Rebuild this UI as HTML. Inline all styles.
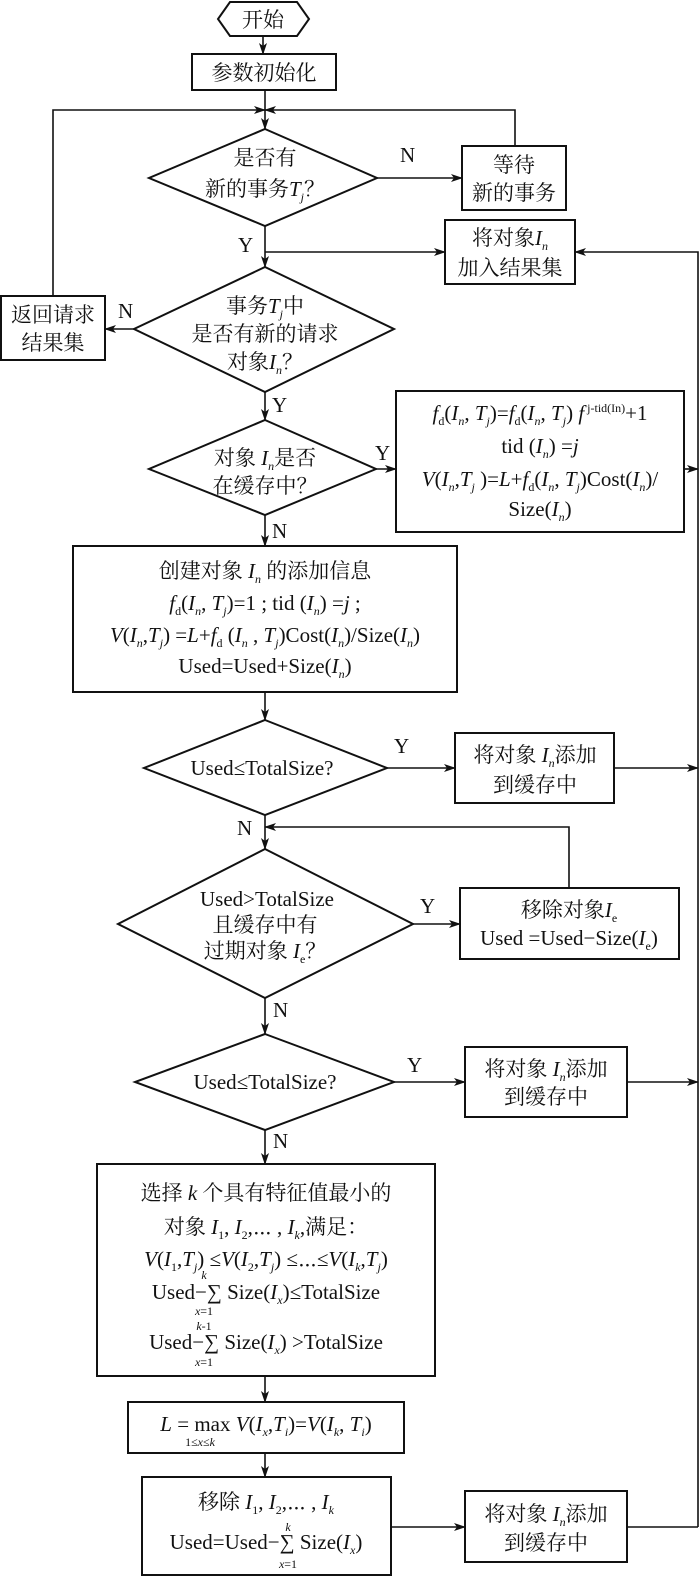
<!DOCTYPE html>
<html><head><meta charset="utf-8"><style>
html,body{margin:0;padding:0;background:#fff}
svg{display:block}
text{font-family:"Liberation Serif","Noto Serif CJK SC",serif;font-size:21px;fill:#111}
.i{font-style:italic}
.s{font-size:12px}
</style></head><body>
<svg width="700" height="1577" viewBox="0 0 700 1577" xmlns="http://www.w3.org/2000/svg">
<defs><marker id="a" markerWidth="12" markerHeight="8" refX="11" refY="4" orient="auto" markerUnits="userSpaceOnUse"><path d="M0,0 L12,4 L0,8 L3,4 Z" fill="#111"/></marker></defs>
<g stroke="#111" stroke-width="2" fill="none">
<polygon points="230,2 297,2 309,19 297,36 230,36 218,19"/>
<rect x="192" y="54" width="144" height="36"/>
<polygon points="265,129 377,178 265,226 149,178"/>
<rect x="462" y="146" width="104" height="64"/>
<rect x="445" y="220" width="130" height="64"/>
<polygon points="265,267 394,329 265,392 134,329"/>
<rect x="1" y="296" width="104" height="64"/>
<polygon points="265,420 376,469 265,515 149,469"/>
<rect x="396" y="391" width="288" height="141"/>
<rect x="73" y="546" width="384" height="146"/>
<polygon points="265,720 387,768 265,815 144,768"/>
<rect x="455" y="733" width="159" height="70"/>
<polygon points="265,849 413,924 265,998 118,924"/>
<rect x="460" y="888" width="219" height="71"/>
<polygon points="265,1034 394,1082 265,1130 135,1082"/>
<rect x="465" y="1047" width="162" height="70"/>
<rect x="97" y="1164" width="338" height="212"/>
<rect x="128" y="1402" width="276" height="51"/>
<rect x="142" y="1477" width="249" height="98"/>
<rect x="465" y="1491" width="162" height="71"/>
</g>
<g stroke="#111" stroke-width="1.6" fill="none">
<line x1="263" y1="36" x2="263" y2="54" marker-end="url(#a)"/>
<line x1="265" y1="90" x2="265" y2="129" marker-end="url(#a)"/>
<polyline points="53,296 53,110 265,110" marker-end="url(#a)"/>
<polyline points="515,146 515,110 265,110" marker-end="url(#a)"/>
<line x1="377" y1="178" x2="462" y2="178" marker-end="url(#a)"/>
<line x1="265" y1="226" x2="265" y2="267" marker-end="url(#a)"/>
<line x1="265" y1="252" x2="445" y2="252" marker-end="url(#a)"/>
<polyline points="698,1527 698,252 575,252" marker-end="url(#a)"/>
<line x1="134" y1="329" x2="105" y2="329" marker-end="url(#a)"/>
<line x1="265" y1="392" x2="265" y2="420" marker-end="url(#a)"/>
<line x1="376" y1="469" x2="396" y2="469" marker-end="url(#a)"/>
<line x1="684" y1="469" x2="698" y2="469" marker-end="url(#a)"/>
<line x1="265" y1="515" x2="265" y2="546" marker-end="url(#a)"/>
<line x1="265" y1="692" x2="265" y2="720" marker-end="url(#a)"/>
<line x1="387" y1="768" x2="455" y2="768" marker-end="url(#a)"/>
<line x1="614" y1="768" x2="698" y2="768" marker-end="url(#a)"/>
<line x1="265" y1="815" x2="265" y2="849" marker-end="url(#a)"/>
<polyline points="569,888 569,827 265,827" marker-end="url(#a)"/>
<line x1="413" y1="924" x2="460" y2="924" marker-end="url(#a)"/>
<line x1="265" y1="998" x2="265" y2="1034" marker-end="url(#a)"/>
<line x1="394" y1="1082" x2="465" y2="1082" marker-end="url(#a)"/>
<line x1="627" y1="1082" x2="698" y2="1082" marker-end="url(#a)"/>
<line x1="265" y1="1130" x2="265" y2="1164" marker-end="url(#a)"/>
<line x1="265" y1="1376" x2="265" y2="1402" marker-end="url(#a)"/>
<line x1="265" y1="1453" x2="265" y2="1477" marker-end="url(#a)"/>
<line x1="391" y1="1527" x2="465" y2="1527" marker-end="url(#a)"/>
<line x1="627" y1="1527" x2="698" y2="1527"/>
</g>
<g text-anchor="middle">
<text x="263" y="27">开始</text>
<text x="264" y="80">参数初始化</text>
<text x="265" y="165">是否有</text>
<text x="265" y="196">新的事务<tspan class="i">T</tspan><tspan class="i s" dy="5">j</tspan><tspan dy="-5">？</tspan></text>
<text x="514" y="172">等待</text>
<text x="514" y="200">新的事务</text>
<text x="510" y="245">将对象<tspan class="i">I</tspan><tspan class="i s" dy="5">n</tspan></text>
<text x="510" y="275">加入结果集</text>
<text x="265" y="313">事务<tspan class="i">T</tspan><tspan class="i s" dy="5">j</tspan><tspan dy="-5">中</tspan></text>
<text x="265" y="341">是否有新的请求</text>
<text x="265" y="369">对象<tspan class="i">I</tspan><tspan class="i s" dy="5">n</tspan><tspan dy="-5">？</tspan></text>
<text x="53" y="322">返回请求</text>
<text x="53" y="350">结果集</text>
<text x="265" y="465">对象 <tspan class="i">I</tspan><tspan class="i s" dy="5">n</tspan><tspan dy="-5">是否</tspan></text>
<text x="265" y="493">在缓存中？</text>
<text x="540" y="420"><tspan class="i">f</tspan><tspan class="s" dy="5">d</tspan><tspan dy="-5">(</tspan><tspan class="i">I</tspan><tspan class="i s" dy="5">n</tspan><tspan dy="-5">, </tspan><tspan class="i">T</tspan><tspan class="i s" dy="5">j</tspan><tspan dy="-5">)=</tspan><tspan class="i">f</tspan><tspan class="s" dy="5">d</tspan><tspan dy="-5">(</tspan><tspan class="i">I</tspan><tspan class="i s" dy="5">n</tspan><tspan dy="-5">, </tspan><tspan class="i">T</tspan><tspan class="i s" dy="5">j</tspan><tspan dy="-5">) </tspan><tspan class="i">f</tspan><tspan class="s" dy="-8"> j-tid(In)</tspan><tspan dy="8">+1</tspan></text>
<text x="540" y="453">tid (<tspan class="i">I</tspan><tspan class="i s" dy="5">n</tspan><tspan dy="-5">) =</tspan><tspan class="i">j</tspan></text>
<text x="540" y="486"><tspan class="i">V</tspan>(<tspan class="i">I</tspan><tspan class="i s" dy="5">n</tspan><tspan dy="-5">,</tspan><tspan class="i">T</tspan><tspan class="i s" dy="5">j</tspan><tspan dy="-5"> )=</tspan><tspan class="i">L</tspan>+<tspan class="i">f</tspan><tspan class="s" dy="5">d</tspan><tspan dy="-5">(</tspan><tspan class="i">I</tspan><tspan class="i s" dy="5">n</tspan><tspan dy="-5">, </tspan><tspan class="i">T</tspan><tspan class="i s" dy="5">j</tspan><tspan dy="-5">)Cost(</tspan><tspan class="i">I</tspan><tspan class="i s" dy="5">n</tspan><tspan dy="-5">)/</tspan></text>
<text x="540" y="516">Size(<tspan class="i">I</tspan><tspan class="i s" dy="5">n</tspan><tspan dy="-5">)</tspan></text>
<text x="265" y="578">创建对象 <tspan class="i">I</tspan><tspan class="i s" dy="5">n</tspan><tspan dy="-5"> 的添加信息</tspan></text>
<text x="265" y="610"><tspan class="i">f</tspan><tspan class="s" dy="5">d</tspan><tspan dy="-5">(</tspan><tspan class="i">I</tspan><tspan class="i s" dy="5">n</tspan><tspan dy="-5">, </tspan><tspan class="i">T</tspan><tspan class="i s" dy="5">j</tspan><tspan dy="-5">)=1 ; tid (</tspan><tspan class="i">I</tspan><tspan class="i s" dy="5">n</tspan><tspan dy="-5">) =</tspan><tspan class="i">j</tspan> ;</text>
<text x="265" y="642"><tspan class="i">V</tspan>(<tspan class="i">I</tspan><tspan class="i s" dy="5">n</tspan><tspan dy="-5">,</tspan><tspan class="i">T</tspan><tspan class="i s" dy="5">j</tspan><tspan dy="-5">) =</tspan><tspan class="i">L</tspan>+<tspan class="i">f</tspan><tspan class="s" dy="5">d</tspan><tspan dy="-5"> (</tspan><tspan class="i">I</tspan><tspan class="i s" dy="5">n</tspan><tspan dy="-5"> , </tspan><tspan class="i">T</tspan><tspan class="i s" dy="5">j</tspan><tspan dy="-5">)Cost(</tspan><tspan class="i">I</tspan><tspan class="i s" dy="5">n</tspan><tspan dy="-5">)/Size(</tspan><tspan class="i">I</tspan><tspan class="i s" dy="5">n</tspan><tspan dy="-5">)</tspan></text>
<text x="265" y="673">Used=Used+Size(<tspan class="i">I</tspan><tspan class="i s" dy="5">n</tspan><tspan dy="-5">)</tspan></text>
<text x="262" y="775">Used≤TotalSize?</text>
<text x="535" y="762">将对象 <tspan class="i">I</tspan><tspan class="i s" dy="5">n</tspan><tspan dy="-5">添加</tspan></text>
<text x="535" y="792">到缓存中</text>
<text x="267" y="906">Used&gt;TotalSize</text>
<text x="265" y="932">且缓存中有</text>
<text x="265" y="958">过期对象 <tspan class="i">I</tspan><tspan class="s" dy="5">e</tspan><tspan dy="-5">？</tspan></text>
<text x="569" y="917">移除对象<tspan class="i">I</tspan><tspan class="s" dy="5">e</tspan></text>
<text x="569" y="945">Used =Used−Size(<tspan class="i">I</tspan><tspan class="s" dy="5">e</tspan><tspan dy="-5">)</tspan></text>
<text x="265" y="1089">Used≤TotalSize?</text>
<text x="546" y="1076">将对象 <tspan class="i">I</tspan><tspan class="i s" dy="5">n</tspan><tspan dy="-5">添加</tspan></text>
<text x="546" y="1104">到缓存中</text>
<text x="266" y="1200">选择 <tspan class="i">k</tspan> 个具有特征值最小的</text>
<text x="266" y="1234">对象 <tspan class="i">I</tspan><tspan class="s" dy="5">1</tspan><tspan dy="-5">, </tspan><tspan class="i">I</tspan><tspan class="s" dy="5">2</tspan><tspan dy="-5">,⋯ , </tspan><tspan class="i">I</tspan><tspan class="i s" dy="5">k</tspan><tspan dy="-5">,满足：</tspan></text>
<text x="266" y="1266"><tspan class="i">V</tspan>(<tspan class="i">I</tspan><tspan class="s" dy="5">1</tspan><tspan dy="-5">,</tspan><tspan class="i">T</tspan><tspan class="i s" dy="5">j</tspan><tspan dy="-5">) ≤</tspan><tspan class="i">V</tspan>(<tspan class="i">I</tspan><tspan class="s" dy="5">2</tspan><tspan dy="-5">,</tspan><tspan class="i">T</tspan><tspan class="i s" dy="5">j</tspan><tspan dy="-5">) ≤⋯≤</tspan><tspan class="i">V</tspan>(<tspan class="i">I</tspan><tspan class="i s" dy="5">k</tspan><tspan dy="-5">,</tspan><tspan class="i">T</tspan><tspan class="i s" dy="5">j</tspan><tspan dy="-5">)</tspan></text>
<text x="266" y="1299">Used−∑ Size(<tspan class="i">I</tspan><tspan class="i s" dy="5">x</tspan><tspan dy="-5">)≤TotalSize</tspan></text>
<text class="s i" x="204" y="1279">k</text>
<text class="s" x="204" y="1315"><tspan class="i">x</tspan>=1</text>
<text x="266" y="1349">Used−∑ Size(<tspan class="i">I</tspan><tspan class="i s" dy="5">x</tspan><tspan dy="-5">) &gt;TotalSize</tspan></text>
<text class="s" x="204" y="1330"><tspan class="i">k</tspan>-1</text>
<text class="s" x="204" y="1366"><tspan class="i">x</tspan>=1</text>
<text x="266" y="1431"><tspan class="i">L</tspan> = max <tspan class="i">V</tspan>(<tspan class="i">I</tspan><tspan class="i s" dy="5">x</tspan><tspan dy="-5">,</tspan><tspan class="i">T</tspan><tspan class="i s" dy="5">i</tspan><tspan dy="-5">)=</tspan><tspan class="i">V</tspan>(<tspan class="i">I</tspan><tspan class="i s" dy="5">k</tspan><tspan dy="-5">, </tspan><tspan class="i">T</tspan><tspan class="i s" dy="5">i</tspan><tspan dy="-5">)</tspan></text>
<text class="s" x="200" y="1446">1≤<tspan class="i">x</tspan>≤<tspan class="i">k</tspan></text>
<text x="266" y="1509">移除 <tspan class="i">I</tspan><tspan class="s" dy="5">1</tspan><tspan dy="-5">, </tspan><tspan class="i">I</tspan><tspan class="s" dy="5">2</tspan><tspan dy="-5">,⋯ , </tspan><tspan class="i">I</tspan><tspan class="i s" dy="5">k</tspan></text>
<text x="266" y="1549">Used=Used−∑ Size(<tspan class="i">I</tspan><tspan class="i s" dy="5">x</tspan><tspan dy="-5">)</tspan></text>
<text class="s i" x="288" y="1531">k</text>
<text class="s" x="288" y="1568"><tspan class="i">x</tspan>=1</text>
<text x="546" y="1521">将对象 <tspan class="i">I</tspan><tspan class="i s" dy="5">n</tspan><tspan dy="-5">添加</tspan></text>
<text x="546" y="1550">到缓存中</text>
</g>
<g>
<text x="400" y="162">N</text>
<text x="238" y="252">Y</text>
<text x="118" y="318">N</text>
<text x="272" y="412">Y</text>
<text x="375" y="460">Y</text>
<text x="272" y="538">N</text>
<text x="394" y="753">Y</text>
<text x="237" y="835">N</text>
<text x="420" y="913">Y</text>
<text x="273" y="1017">N</text>
<text x="407" y="1072">Y</text>
<text x="273" y="1148">N</text>
</g>
</svg>
</body></html>
